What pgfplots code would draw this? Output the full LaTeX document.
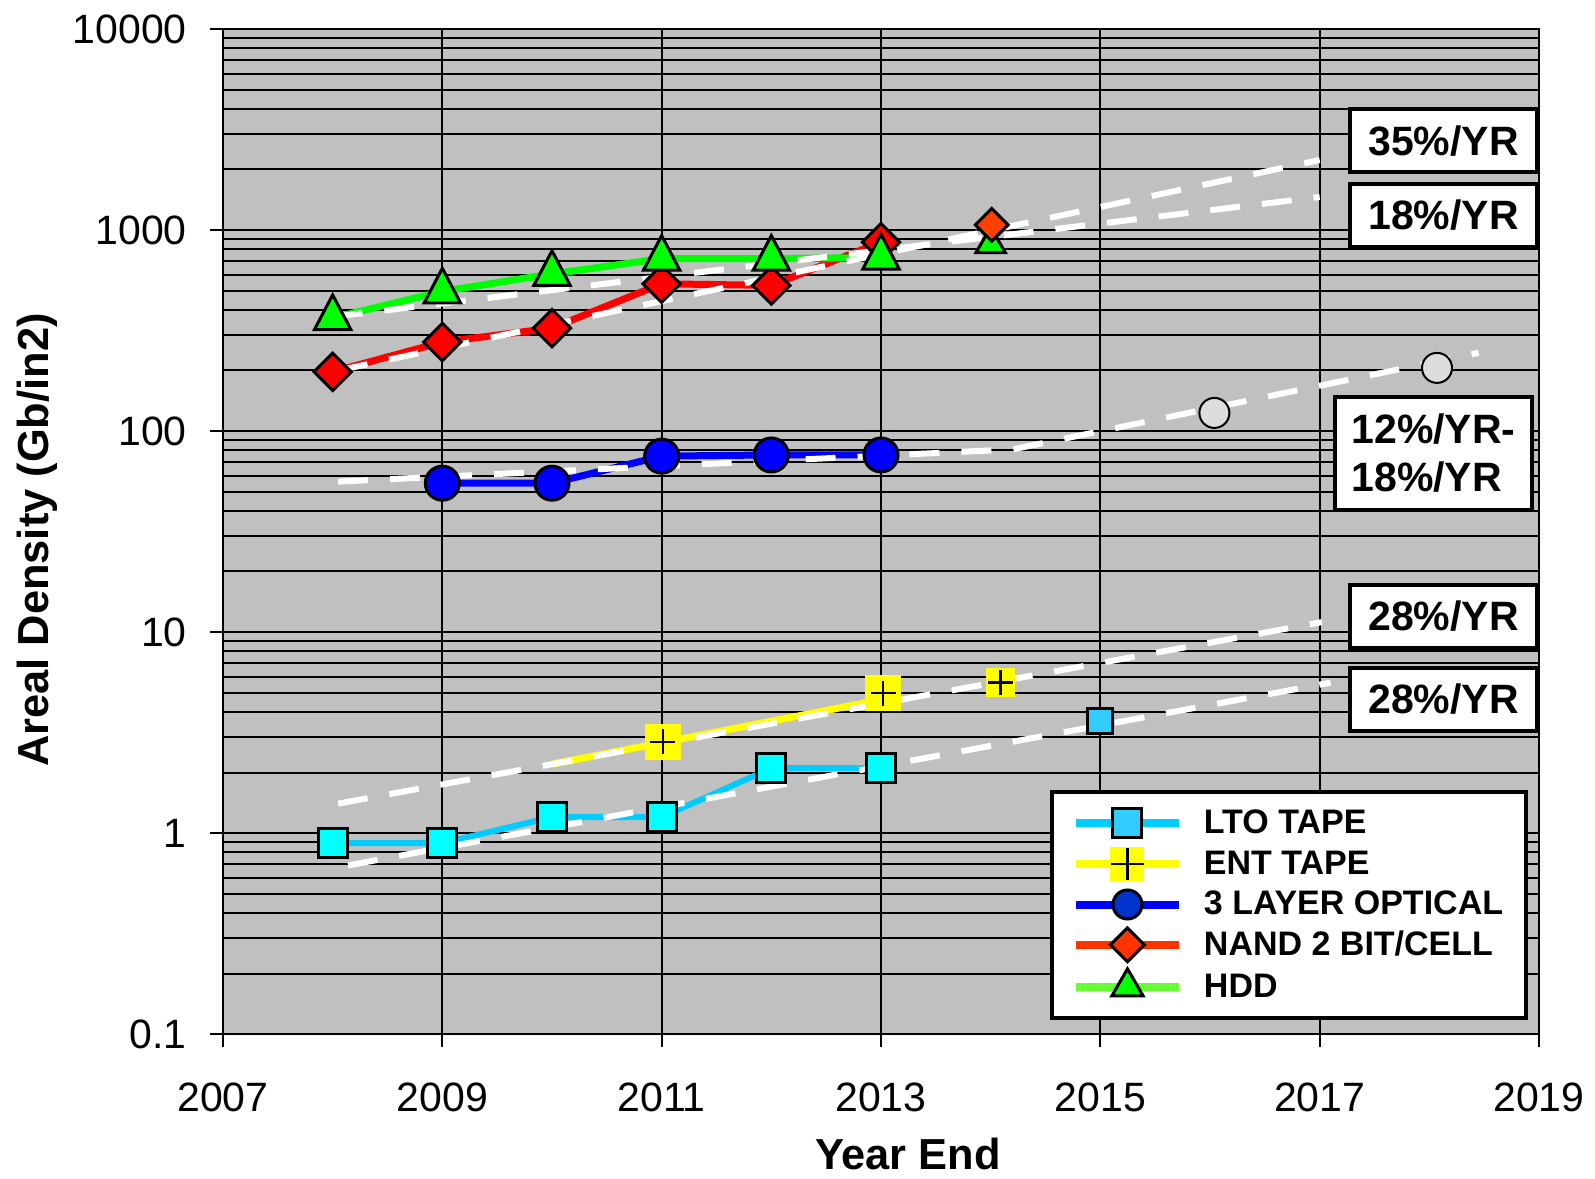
\documentclass[border=0pt]{standalone}
\usepackage{fontspec}
\setmainfont{Liberation Sans}
\usepackage{pgfplots}
\pgfplotsset{compat=1.18}
\definecolor{bg}{HTML}{C0C0C0}
\definecolor{ltoline}{HTML}{00CCFF}
\definecolor{ltomark}{HTML}{00FFFF}
\definecolor{ltoleg}{HTML}{33CCFF}
\definecolor{entyellow}{HTML}{FFFF00}
\definecolor{optline}{HTML}{0000FF}
\definecolor{optleg}{HTML}{0033CC}
\definecolor{nandline}{HTML}{FF0000}
\definecolor{nandleg}{HTML}{FF3300}
\definecolor{nandnew}{HTML}{FF4000}
\definecolor{hddline}{HTML}{00FF00}
\definecolor{hddleg}{HTML}{66FF33}
\definecolor{futgray}{HTML}{DDDDDD}
\begin{document}
\begin{tikzpicture}
\begin{axis}[
  at={(0pt,0pt)}, anchor=south west,
  scale only axis, width=658pt, height=502.5pt,
  xmin=2007, xmax=2019, ymin=0.1, ymax=10000, ymode=log,
  xtick={2007,2009,2011,2013,2015,2017,2019},
  xticklabels={2007,2009,2011,2013,2015,2017,2019},
  ytick={0.1,1,10,100,1000,10000},
  yticklabels={0.1,1,10,100,1000,10000},
  minor ytick={0.2,0.3,0.4,0.5,0.6,0.7,0.8,0.9,2,3,4,5,6,7,8,9,20,30,40,50,60,70,80,90,200,300,400,500,600,700,800,900,2000,3000,4000,5000,6000,7000,8000,9000},
  xmajorgrids, ymajorgrids, yminorgrids,
  major grid style={black, line width=1pt},
  minor grid style={black, line width=1pt},
  tick align=outside, tick pos=left,
  major tick length=6.5pt, minor tick length=0pt,
  tick style={black, line width=1pt},
  axis line style={black, line width=1pt},
  axis background/.style={fill=bg},
  xticklabel style={font=\fontsize{20.5}{24}\selectfont, inner sep=0pt, anchor=north, yshift=-17.5pt},
  yticklabel style={font=\fontsize{20.5}{24}\selectfont, inner sep=0pt, anchor=east, xshift=-11.5pt},
  xlabel={Year End},
  ylabel={Areal Density (Gb/in2)},
  xlabel style={font=\bfseries\fontsize{21.7}{26}\selectfont, at={(axis description cs:0.5205,-0.1195)}, anchor=center},
  ylabel style={font=\bfseries\fontsize{21.7}{26}\selectfont, at={(axis description cs:-0.141,0.4915)}, anchor=center},
  legend image code/.code={\draw[mark repeat=2,mark phase=2,#1] plot coordinates {(0pt,0pt) (25.75pt,0pt) (51.5pt,0pt)};},
  legend cell align=left,
  legend style={at={(0.6284,0.2428)}, anchor=north west, draw=black, line width=2pt, fill=white,
    font=\bfseries\fontsize{17}{20}\selectfont, inner xsep=10pt, inner ysep=7.5pt, row sep=3.5pt,
    nodes={inner sep=1.5pt}, /tikz/every odd column/.append style={column sep=9pt}},
  trend/.style={white, line width=3pt, dash pattern=on 15pt off 11pt, forget plot},
]
% legend images
\addlegendimage{color=ltoline, line width=4pt, mark=square*, mark size=7.25pt, mark options={fill=ltoleg, draw=black, line width=1.5pt, solid}}
\addlegendentry{LTO TAPE}
\addlegendimage{legend image code/.code={\draw[color=entyellow, line width=4pt] (0pt,0pt)--(51.5pt,0pt); \fill[entyellow] (18.25pt,-7.5pt) rectangle (33.25pt,7.5pt); \draw[black, line width=1.2pt] (25.75pt,-8pt)--(25.75pt,8pt) (17.5pt,0pt)--(34pt,0pt);}}
\addlegendentry{ENT TAPE}
\addlegendimage{color=optline, line width=4pt, mark=*, mark size=7.25pt, mark options={fill=optleg, draw=black, line width=1.5pt}}
\addlegendentry{3 LAYER OPTICAL}
\addlegendimage{color=nandleg, line width=4pt, mark=square*, mark size=6pt, mark options={rotate=45, fill=nandleg, draw=black, line width=1.5pt}}
\addlegendentry{NAND 2 BIT/CELL}
\addlegendimage{color=hddleg, line width=4pt, mark=triangle*, mark size=9pt, mark options={fill=hddline, draw=black, line width=1.5pt}}
\addlegendentry{HDD}

% LTO tape
\addplot[forget plot, color=ltoline, line width=3pt, mark=square*, mark size=7.25pt, mark options={fill=ltomark, draw=black, line width=1.5pt}]
  coordinates {(2008,0.89) (2009,0.89) (2010,1.2) (2011,1.2) (2012,2.1) (2013,2.1)};
% ENT tape line
\addplot[forget plot, color=entyellow, line width=3.5pt] coordinates {(2010,2.2) (2013,4.6)};
\addplot[forget plot, only marks, mark=square*, mark size=8.75pt, mark options={fill=entyellow, draw=entyellow, line width=0pt}]
  coordinates {(2011.01,2.84) (2013.02,4.97)};
\addplot[forget plot, only marks, mark=+, mark size=6.25pt, mark options={draw=black, line width=1.2pt}]
  coordinates {(2011.01,2.84) (2013.02,4.97)};
% 3 layer optical
\addplot[forget plot, color=optline, line width=3.5pt, mark=*, mark size=8.5pt, mark options={fill=optline, draw=black, line width=1.5pt}]
  coordinates {(2009,55) (2010,55) (2011,75) (2012,76) (2013,76)};
% NAND
\addplot[forget plot, color=nandline, line width=3.5pt, mark=square*, mark size=6.6pt, mark options={rotate=45, fill=nandline, draw=black, line width=1.5pt}]
  coordinates {(2008,197) (2009,277) (2010,325) (2011,540) (2012,530) (2013,870)};
% HDD
\addplot[forget plot, color=hddline, line width=3.5pt, mark=triangle*, mark size=10.5pt, mark options={fill=hddline, draw=black, line width=1.5pt, yscale=1.1}]
  coordinates {(2008,365) (2009,495) (2010,605) (2011,720) (2012,720) (2013,730)};

% trend lines
\addplot[trend] coordinates {(2008.05,200) (2017,2230)};
\addplot[trend] coordinates {(2008,370) (2017,1460)};
\addplot[trend] coordinates {(2008.05,56) (2014.2,81) (2018.45,245)};
\addplot[trend] coordinates {(2008.05,1.4) (2017.02,11.2)};
\addplot[trend] coordinates {(2008.14,0.69) (2017.1,5.6)};

% later points
\addplot[forget plot, only marks, mark=triangle*, mark size=8.5pt, mark options={fill=hddline, draw=black, line width=1.5pt}]
  coordinates {(2014.0,850)};
\addplot[forget plot, only marks, mark=square*, mark size=5.8pt, mark options={rotate=45, fill=nandnew, draw=black, line width=1.5pt}]
  coordinates {(2014.01,1060)};
\addplot[forget plot, only marks, mark=square*, mark size=7pt, mark options={fill=entyellow, draw=entyellow, line width=0pt}]
  coordinates {(2014.09,5.6)};
\addplot[forget plot, only marks, mark=+, mark size=6.25pt, mark options={draw=black, line width=1.2pt}]
  coordinates {(2014.09,5.6)};
\addplot[forget plot, only marks, mark=square*, mark size=6.25pt, mark options={fill=ltoleg, draw=black, line width=1.5pt}]
  coordinates {(2015.0,3.6)};
\addplot[forget plot, only marks, mark=*, mark size=7.5pt, mark options={fill=futgray, draw=black, line width=1pt}]
  coordinates {(2016.04,123) (2018.07,206)};
\end{axis}
\tikzset{ratebox/.style={draw=black, line width=2pt, fill=white, font=\bfseries\fontsize{20.5}{24}\selectfont, inner sep=0pt, minimum width=93.5pt, minimum height=31.5pt}}
\node[ratebox] at (610.25pt,446.5pt) {35\%/YR};
\node[ratebox] at (610.25pt,409.25pt) {18\%/YR};
\node[ratebox, align=left, minimum width=98.5pt, minimum height=56.5pt] at (605.25pt,290.25pt) {12\%/YR-\\18\%/YR};
\node[ratebox] at (610.25pt,208.75pt) {28\%/YR};
\node[ratebox] at (610.25pt,167.25pt) {28\%/YR};
\pgfresetboundingbox
\path[use as bounding box] (-111.5pt,-72pt) rectangle (686pt,517pt);
\end{tikzpicture}
\end{document}
